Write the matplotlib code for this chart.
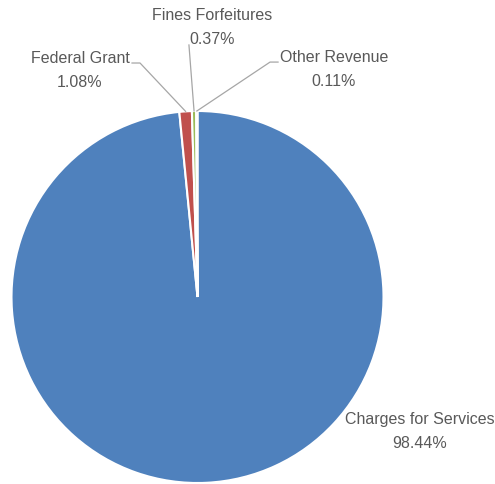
import matplotlib.pyplot as plt
import numpy as np

# revenue share by source (percent)
sources = ['Charges for Services', 'Federal Grant', 'Fines Forfeitures', 'Other Revenue']
shares = [98.44, 1.08, 0.37, 0.11]
colors = ['#4F81BD', '#C0504D', '#9BBB59', '#8064A2']

# label centres and leader line points (axes data units, pie radius = 1)
label_pos = [(1.196, -0.720), (-0.632, 1.223), (0.078, 1.452), (0.734, 1.231)]
leader_start = [None, [(-0.352, 1.258), (-0.309, 1.258)],
                [(-0.046, 1.355)],
                [(0.433, 1.263), (0.390, 1.263)]]

W, H = 495, 485
fig = plt.figure(figsize=(W / 100, H / 100), dpi=100)
cx, cy, r = 197.5, 298, 186
ax = fig.add_axes([(cx - r) / W, (H - cy - r) / H, 2 * r / W, 2 * r / H])

wedges, _ = ax.pie(shares, colors=colors, startangle=90, counterclock=False,
                   radius=1, wedgeprops=dict(edgecolor='white', linewidth=1.5))
ax.set_xlim(-1, 1)
ax.set_ylim(-1, 1)
ax.set_aspect('equal')
ax.axis('off')

for i, w in enumerate(wedges):
    txt = '%s\n%.2f%%' % (sources[i], shares[i])
    ax.text(label_pos[i][0], label_pos[i][1], txt, ha='center', va='center',
            fontsize=11.5, color='#595959', family='Liberation Sans',
            linespacing=1.75, clip_on=False)
    if leader_start[i] is None:
        continue
    mid = np.deg2rad((w.theta1 + w.theta2) / 2)
    pts = leader_start[i] + [(np.cos(mid), np.sin(mid))]
    xs, ys = zip(*pts)
    ax.plot(xs, ys, color='#A6A6A6', lw=0.9, clip_on=False)

fig.savefig('out.png', dpi=100)
